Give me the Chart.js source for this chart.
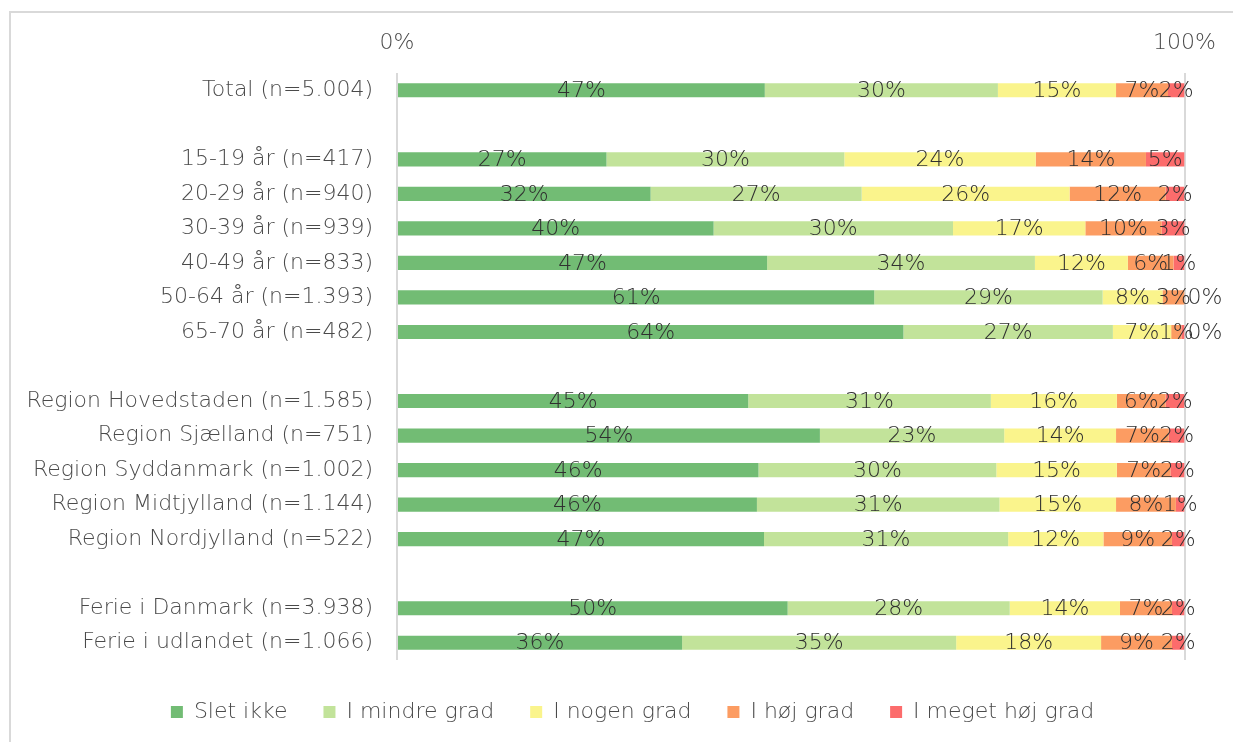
<!DOCTYPE html>
<html><head><meta charset="utf-8">
<script src="https://cdn.jsdelivr.net/npm/chart.js@4"></script>
<style>
html,body{margin:0;padding:0;background:#fff;overflow:hidden;width:1233px;height:742px;}
#frame{position:absolute;left:9px;top:11px;width:1400px;height:900px;border-left:2px solid #d9d9d9;border-top:2px solid #d9d9d9;}
#c{position:absolute;left:0;top:0;}
</style></head><body>
<div id="frame"></div>
<canvas id="c" width="1233" height="742"></canvas>
<script>
const categories = ['Total (n=5.004)', '', '15-19 år (n=417)', '20-29 år (n=940)', '30-39 år (n=939)', '40-49 år (n=833)', '50-64 år (n=1.393)', '65-70 år (n=482)', '', 'Region Hovedstaden (n=1.585)', 'Region Sjælland (n=751)', 'Region Syddanmark (n=1.002)', 'Region Midtjylland (n=1.144)', 'Region Nordjylland (n=522)', '', 'Ferie i Danmark (n=3.938)', 'Ferie i udlandet (n=1.066)'];
const seriesNames = ['Slet ikke', 'I mindre grad', 'I nogen grad', 'I høj grad', 'I meget høj grad'];
const sletIkke       = [46.7, null, 26.6, 32.2, 40.2, 47.0, 60.6, 64.3, null, 44.6, 53.7, 45.9, 45.7, 46.6, null, 49.6, 36.2];
const iMindreGrad    = [29.6, null, 30.2, 26.8, 30.4, 34.0, 29.0, 26.6, null, 30.8, 23.4, 30.2, 30.8, 31.0, null, 28.2, 34.8];
const iNogenGrad     = [15.0, null, 24.3, 26.4, 16.8, 11.8, 7.6, 7.4, null, 16.0, 14.2, 15.3, 14.8, 12.1, null, 14.0, 18.4];
const iHoejGrad      = [6.6, null, 14.0, 12.2, 9.7, 5.8, 2.8, 1.3, null, 6.2, 6.7, 6.8, 7.6, 8.7, null, 6.6, 9.0];
const iMegetHoejGrad = [2.1, null, 4.9, 2.4, 2.9, 1.4, 0, 0.4, null, 2.4, 2.0, 1.8, 1.1, 1.6, null, 1.6, 1.6];
const xTickValues = [0, 100];
const colors = ['#72BC74', '#C2E39A', '#FAF48C', '#FC9C62', '#FC6C6C'];

const FONT = '"DejaVu Sans", sans-serif';
const WEIGHT = 200;
const SIZE = 22;
const allSeries = [sletIkke, iMindreGrad, iNogenGrad, iHoejGrad, iMegetHoejGrad];

const labelPlugin = {
  id: 'segLabels',
  afterDatasetsDraw(chart) {
    const ctx = chart.ctx;
    ctx.save();
    ctx.font = WEIGHT + ' ' + SIZE + 'px ' + FONT;
    ctx.fillStyle = '#303030';
    ctx.textBaseline = 'middle';
    chart.data.datasets.forEach((ds, di) => {
      const meta = chart.getDatasetMeta(di);
      meta.data.forEach((el, i) => {
        const v = ds.data[i];
        if (v === null || v === undefined) return;
        const p = el.getProps(['x', 'base', 'y'], true);
        const r = Math.round(v);
        const txt = r + '%';
        if (r === 0) {
          ctx.textAlign = 'left';
          ctx.fillText(txt, Math.max(p.x, p.base) + 3, p.y + 1);
        } else {
          ctx.textAlign = 'center';
          ctx.fillText(txt, (p.x + p.base) / 2, p.y + 1);
        }
      });
    });
    ctx.restore();
  }
};

const legendShift = {
  id: 'legendShift',
  afterLayout(chart) {
    if (chart.legend) { chart.legend.left += 40; chart.legend.right += 40; }
  }
};

new Chart(document.getElementById('c'), {
  type: 'bar',
  data: {
    labels: categories,
    datasets: allSeries.map((d, i) => ({
      label: seriesNames[i],
      data: d,
      backgroundColor: colors[i],
      borderWidth: 0,
      barPercentage: 0.41,
      categoryPercentage: 1.0
    }))
  },
  options: {
    indexAxis: 'y',
    responsive: false,
    animation: false,
    layout: { padding: { left: 0, right: 48, top: 0, bottom: 9 } },
    scales: {
      x: {
        position: 'top',
        stacked: true,
        min: 0, max: 100,
        afterBuildTicks(scale) { scale.ticks = xTickValues.map(v => ({ value: v })); },
        afterFit(scale) { scale.height = 73; },
        ticks: { callback: v => v + '%', font: { size: SIZE, family: FONT, weight: WEIGHT }, color: '#4a4a4a', padding: 17, maxRotation: 0 },
        grid: { color: '#d9d9d9', lineWidth: 2, drawTicks: false },
        border: { display: false }
      },
      y: {
        stacked: true,
        afterFit(scale) { scale.width = 397; },
        ticks: { font: { size: SIZE, family: FONT, weight: WEIGHT }, color: '#4a4a4a', padding: 24, autoSkip: false },
        grid: { display: false, drawTicks: false },
        border: { display: false }
      }
    },
    plugins: {
      tooltip: { enabled: false },
      legend: {
        position: 'bottom',
        title: { display: true, text: ' ', font: { size: 5, lineHeight: 1 }, padding: 0 },
        labels: { boxWidth: 12, boxHeight: 12, padding: 36, color: '#4a4a4a', font: { size: SIZE, family: FONT, weight: WEIGHT } }
      }
    }
  },
  plugins: [labelPlugin, legendShift]
});
</script>
</body></html>
